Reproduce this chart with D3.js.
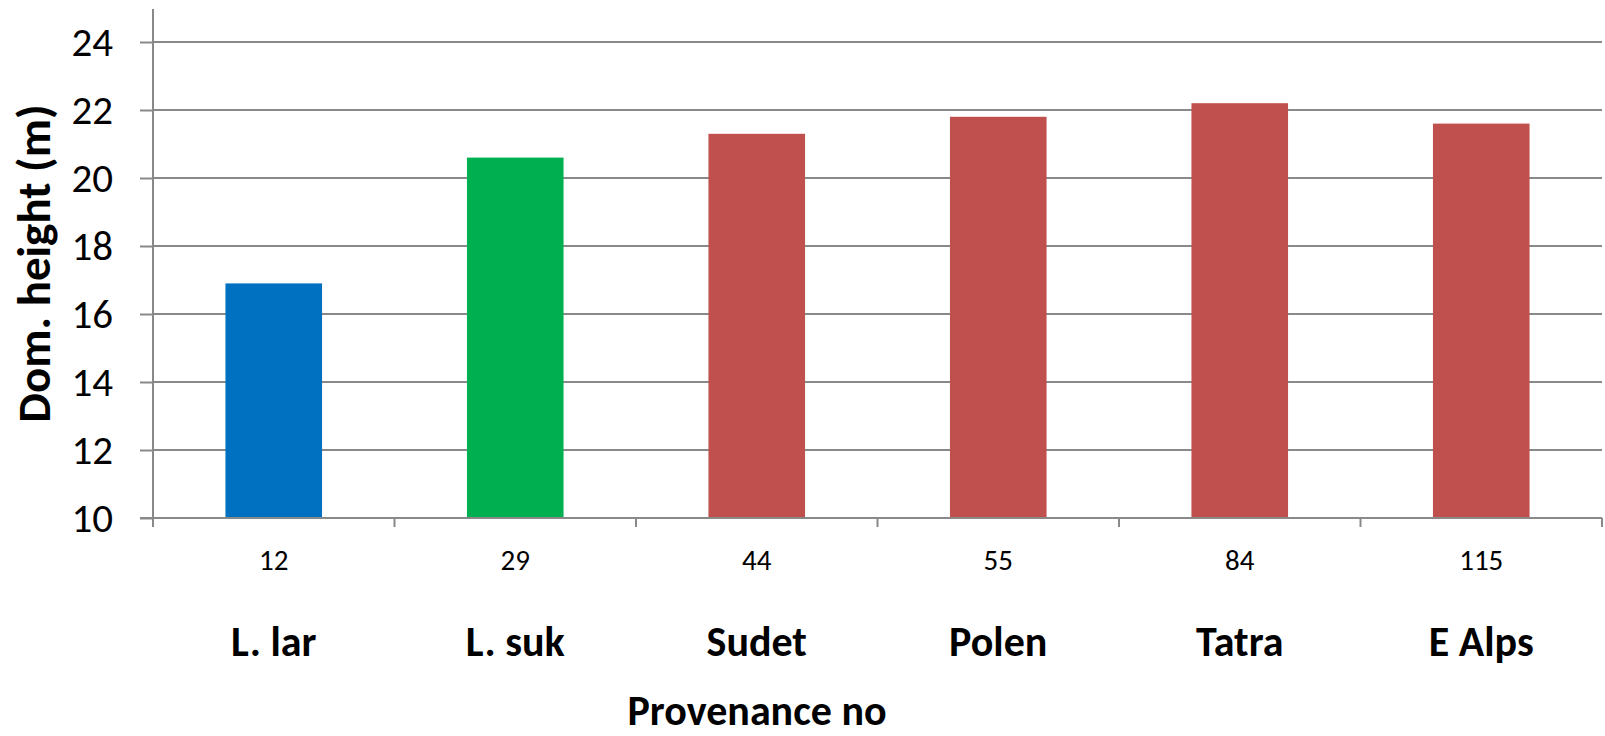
<!DOCTYPE html>
<html>
<head>
<meta charset="utf-8">
<script src="https://cdn.jsdelivr.net/npm/d3@7"></script>
<style>
  html, body { margin: 0; padding: 0; background: #fff; }
  svg { display: block; font-family: Calibri, Carlito, Lato, sans-serif; }
</style>
</head>
<body>
<svg id="chart" width="1605" height="736"></svg>
<script>
// Dominant height per provenance
const provenanceNo = ["12", "29", "44", "55", "84", "115"];
const provenanceName = ["L. lar", "L. suk", "Sudet", "Polen", "Tatra", "E Alps"];
const domHeight = [16.9, 20.6, 21.3, 21.8, 22.2, 21.6];
const barColors = ["#0070C0", "#00B050", "#C0504D", "#C0504D", "#C0504D", "#C0504D"];
const yTicks = [10, 12, 14, 16, 18, 20, 22, 24];

const svg = d3.select("#chart");
const plotLeft = 153, plotRight = 1602, plotTop = 9, plotBottom = 518;
const gridColor = "#898989";
const fontStack = "Calibri, Carlito, Lato, sans-serif";

const x = d3.scaleBand()
  .domain(provenanceNo)
  .range([plotLeft, plotRight])
  .paddingInner(0.6)
  .paddingOuter(0.3);

const y = d3.scaleLinear()
  .domain([10, 24])
  .range([plotBottom, plotBottom - 14 * 34]);

// horizontal gridlines
svg.append("g")
  .selectAll("line")
  .data(yTicks.slice(1))
  .join("line")
  .attr("x1", plotLeft).attr("x2", plotRight)
  .attr("y1", d => y(d)).attr("y2", d => y(d))
  .attr("stroke", gridColor).attr("stroke-width", 2);

// bars
svg.append("g")
  .selectAll("rect")
  .data(domHeight)
  .join("rect")
  .attr("x", (d, i) => x(provenanceNo[i]))
  .attr("width", x.bandwidth())
  .attr("y", d => y(d))
  .attr("height", d => y(10) - y(d))
  .attr("fill", (d, i) => barColors[i]);

// y axis
const yAxis = svg.append("g")
  .attr("transform", `translate(${plotLeft},0)`)
  .call(d3.axisLeft(y).tickValues(yTicks).tickSize(13).tickPadding(27).tickFormat(d3.format("d")));
yAxis.select(".domain").remove();
yAxis.selectAll(".tick line").attr("stroke", gridColor).attr("stroke-width", 2);
yAxis.selectAll(".tick text")
  .attr("font-size", 41).attr("fill", "#000")
  .attr("font-family", fontStack);
svg.append("line")
  .attr("x1", plotLeft).attr("x2", plotLeft)
  .attr("y1", plotTop).attr("y2", plotBottom + 9)
  .attr("stroke", gridColor).attr("stroke-width", 2);

// x axis baseline with ticks at category boundaries
svg.append("line")
  .attr("x1", plotLeft - 13).attr("x2", plotRight)
  .attr("y1", plotBottom).attr("y2", plotBottom)
  .attr("stroke", gridColor).attr("stroke-width", 2);
const step = x.step();
const boundaries = provenanceNo.map(c => x(c) - step * 0.3).concat([plotRight]);
svg.append("g")
  .selectAll("line")
  .data(boundaries)
  .join("line")
  .attr("x1", d => d).attr("x2", d => d)
  .attr("y1", plotBottom).attr("y2", plotBottom + 9)
  .attr("stroke", gridColor).attr("stroke-width", 2);

// provenance numbers
const xAxis = svg.append("g")
  .attr("transform", `translate(0,${plotBottom})`)
  .call(d3.axisBottom(x).tickSize(0).tickPadding(0));
xAxis.select(".domain").remove();
xAxis.selectAll(".tick text")
  .attr("y", 52).attr("dy", 0)
  .attr("font-size", 29).attr("fill", "#000")
  .attr("font-family", fontStack);

// provenance names
svg.append("g")
  .selectAll("text")
  .data(provenanceName)
  .join("text")
  .attr("x", (d, i) => x(provenanceNo[i]) + x.bandwidth() / 2)
  .attr("y", 656)
  .attr("text-anchor", "middle")
  .attr("font-size", 42).attr("font-weight", "bold")
  .text(d => d);

// axis titles
svg.append("text")
  .attr("x", 757).attr("y", 725)
  .attr("text-anchor", "middle")
  .attr("font-size", 42).attr("font-weight", "bold")
  .text("Provenance no");

svg.append("text")
  .attr("transform", `translate(50,${(plotTop + plotBottom) / 2}) rotate(-90)`)
  .attr("text-anchor", "middle")
  .attr("font-size", 47).attr("font-weight", "bold")
  .text("Dom. height (m)");
</script>
</body>
</html>
